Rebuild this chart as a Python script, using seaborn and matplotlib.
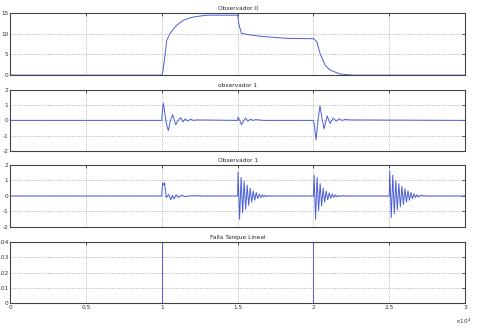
import numpy as np
import pandas as pd
import seaborn as sns
import matplotlib.pyplot as plt

# time axis is in units of 1e4 (shown as "x 10^4" at the bottom right)
titles = ['Observador 0', 'observador 1', 'Observador 1', 'Falla Tanque Lineal']
x_ticks = [0, 0.5, 1, 1.5, 2, 2.5, 3]
x_tick_labels = ['0', '0.5', '1', '1.5', '2', '2.5', '3']

# panel 1 - observador 0
obs0_t = [0, 1.0, 1.007, 1.02, 1.033, 1.055, 1.08, 1.1, 1.143, 1.2, 1.253, 1.3, 1.4, 1.5,
          1.51, 1.526, 1.559, 1.648, 1.75, 1.824, 2.0, 2.022, 2.044, 2.077, 2.11, 2.176, 2.26, 3.0]
obs0_v = [0, 0, 0.8, 4.4, 8.5, 10.1, 11.3, 12.1, 13.3, 14.0, 14.3, 14.5, 14.5, 14.5,
          12.0, 10.1, 9.85, 9.4, 9.1, 8.9, 8.8, 8.1, 5.2, 2.4, 1.2, 0.25, 0, 0]

# panel 2 - observador 1 (slow residual)
obs1a_t = [0, 1.0, 1.004, 1.01, 1.02, 1.03, 1.043, 1.058, 1.072, 1.092, 1.108, 1.125, 1.14,
           1.155, 1.17, 1.19, 1.21, 1.23, 1.5, 1.503, 1.514, 1.526, 1.54, 1.553, 1.568,
           1.585, 1.6, 1.62, 1.645, 1.676, 2.0, 2.006, 2.017, 2.03, 2.043, 2.057, 2.07,
           2.09, 2.11, 2.13, 2.15, 2.17, 2.19, 2.21, 2.24, 3.0]
obs1a_v = [0, 0, 0.6, 1.13, 0.5, -0.2, -0.67, 0.0, 0.38, -0.29, 0.0, 0.18, -0.1,
           0.1, -0.04, 0.07, 0.0, 0.03, 0, 0.22, 0.0, -0.29, 0.0, 0.15, -0.05,
           0.08, 0.0, 0.05, 0.02, 0, 0, -0.3, -1.27, 0.0, 0.95, 0.1, -0.55,
           0.29, -0.2, 0.15, -0.05, 0.1, 0.0, 0.06, 0.03, 0]

# panel 3 - observador 1 (fast residual)
obs1b_t = [0, 1.0, 1.005, 1.012, 1.018, 1.03, 1.045, 1.06, 1.07, 1.08, 1.095, 1.11, 1.13, 1.15,
           1.2, 1.3,
           1.5, 1.503, 1.513, 1.523, 1.533, 1.543, 1.553, 1.563, 1.573, 1.583, 1.593, 1.603,
           1.613, 1.623, 1.633, 1.643, 1.653, 1.663, 1.673, 1.683, 1.693, 1.703, 1.72,
           2.0, 2.004, 2.014, 2.024, 2.034, 2.044, 2.054, 2.064, 2.074, 2.084, 2.094, 2.104,
           2.114, 2.124, 2.134, 2.144, 2.154, 2.164, 2.174, 2.19, 2.22,
           2.5, 2.503, 2.513, 2.523, 2.533, 2.543, 2.553, 2.563, 2.573, 2.583, 2.593, 2.603,
           2.613, 2.623, 2.633, 2.643, 2.653, 2.663, 2.673, 2.683, 2.693, 2.703, 2.72, 2.75,
           3.0]
obs1b_v = [0, 0, 0.84, 0.7, 0.86, -0.1, 0.1, -0.25, 0.05, -0.2, 0.08, -0.1, 0.05, -0.03,
           0.02, 0,
           0, 1.55, -1.5, 1.2, -1.1, 0.95, -0.85, 0.7, -0.6, 0.5, -0.4, 0.33,
           -0.27, 0.22, -0.17, 0.13, -0.1, 0.08, -0.06, 0.05, -0.04, 0.03, 0,
           0, 1.35, -1.5, 1.2, -0.95, 0.8, -0.65, 0.5, -0.4, 0.32, -0.25, 0.2,
           -0.15, 0.12, -0.09, 0.07, -0.05, 0.04, -0.03, 0.02, 0,
           0, 1.62, -1.4, 1.35, -1.15, 1.0, -0.9, 0.8, -0.7, 0.62, -0.55, 0.47,
           -0.4, 0.34, -0.28, 0.23, -0.18, 0.14, -0.1, 0.08, -0.06, 0.04, 0.02, 0,
           0]

# panel 4 - fault signal (goes above the axis limit, clipped)
fault_t = [0, 1.0, 1.0, 2.0, 2.0, 3.0]
fault_v = [0, 0, 0.05, 0.05, 0, 0]

series = [(obs0_t, obs0_v), (obs1a_t, obs1a_v), (obs1b_t, obs1b_v), (fault_t, fault_v)]
y_limits = [(0, 15), (-2, 2), (-2, 2), (0, 0.04)]
y_ticks = [[0, 5, 10, 15], [-2, -1, 0, 1, 2], [-2, -1, 0, 1, 2], [0, 0.01, 0.02, 0.03, 0.04]]
# the reference cuts the leading "0" of the small ticks at the figure edge
y_tick_labels = [['0', '5', '10', '15'], ['-2', '-1', '0', '1', '2'],
                 ['-2', '-1', '0', '1', '2'], ['0', '.01', '.02', '.03', '.04']]

sns.set_theme(style='white')
plt.rcParams['font.family'] = ['DejaVu Sans']

fig = plt.figure(figsize=(4.81, 3.28), dpi=100)
fig.patch.set_facecolor('white')

boxes = [(0.021, 0.771, 0.946, 0.189),
         (0.021, 0.540, 0.946, 0.186),
         (0.021, 0.308, 0.946, 0.189),
         (0.021, 0.075, 0.946, 0.188)]

for i, (t, v) in enumerate(series):
    ax = fig.add_axes(boxes[i])
    df = pd.DataFrame({'t': t, 'v': v})
    sns.lineplot(data=df, x='t', y='v', ax=ax, sort=False, estimator=None,
                 color='#4a5fd4', linewidth=0.7)
    ax.set_xlim(0, 3)
    ax.set_ylim(*y_limits[i])
    ax.set_xticks(x_ticks)
    ax.set_yticks(y_ticks[i])
    ax.set_yticklabels(y_tick_labels[i])
    if i == 3:
        ax.set_xticklabels(x_tick_labels)
    else:
        ax.set_xticklabels([])
    ax.set_xlabel('')
    ax.set_ylabel('')
    ax.set_title(titles[i], fontsize=4.2, pad=2)
    ax.grid(True, linestyle=':', color='#a0a0a0', linewidth=0.6)
    ax.tick_params(direction='in', length=2.5, width=0.6, labelsize=4.2, pad=1.2,
                   top=True, right=True, colors='#333333')
    for s in ax.spines.values():
        s.set_color('#444444')
        s.set_linewidth(0.8)

fig.text(0.945, 0.012, r'$\times10^{4}$', fontsize=4.2, color='#333333')

plt.savefig('out.png', dpi=100)
